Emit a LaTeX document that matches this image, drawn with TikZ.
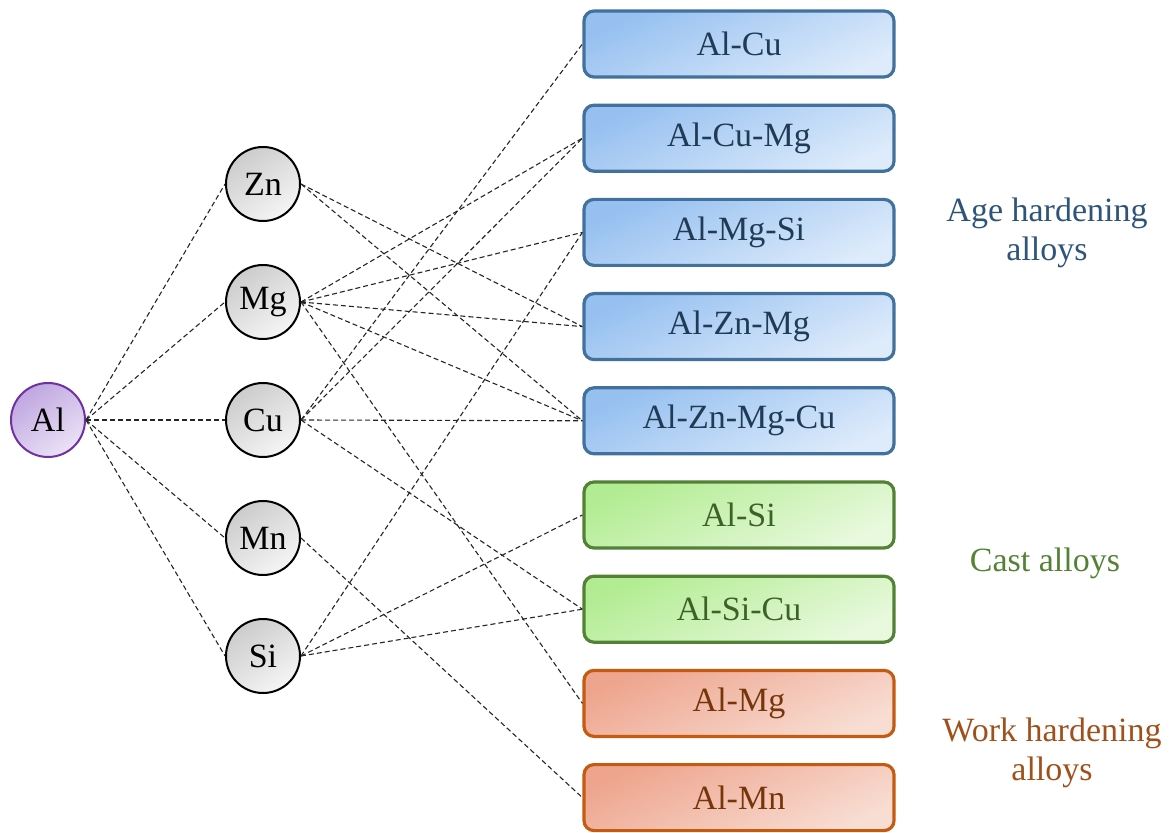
\documentclass[tikz,border=0pt]{standalone}
\usepackage{fontspec}
\setmainfont{Liberation Serif}
\usetikzlibrary{positioning}
\definecolor{agefill}{HTML}{96C0F0}
\definecolor{agelight}{HTML}{DDEBFB}
\definecolor{ageline}{HTML}{41719C}
\definecolor{agetext}{HTML}{2E5579}
\definecolor{castfill}{HTML}{B2EC92}
\definecolor{castlight}{HTML}{E9F9DE}
\definecolor{castline}{HTML}{538135}
\definecolor{casttext}{HTML}{548235}
\definecolor{workfill}{HTML}{EEA58E}
\definecolor{worklight}{HTML}{F8DDD3}
\definecolor{workline}{HTML}{C55A11}
\definecolor{worktext}{HTML}{A0501A}
\definecolor{basefill}{HTML}{BFA6E0}
\definecolor{baselight}{HTML}{EBE2F6}
\definecolor{baseline}{HTML}{7030A0}
\tikzset{
  element/.style = {
    draw=black, line width=1pt, circle, minimum size=37pt, inner sep=0pt,
    top color=black!20!white, bottom color=black!4!white, shading angle=35,
    font=\fontsize{17}{20}\selectfont,
  },
  base/.style = {element, draw=baseline, top color=basefill,
    bottom color=baselight, shading angle=35},
  alloy/.style = {
    rounded corners=5pt, line width=1.6pt, minimum width=155pt,
    minimum height=33pt, inner sep=0pt, font=\fontsize{17}{20}\selectfont,
  },
  age/.style = {alloy, draw=ageline, top color=agefill,
    bottom color=agelight, shading angle=25, text=agetext!70!black},
  cast/.style = {alloy, draw=castline, top color=castfill,
    bottom color=castlight, shading angle=25, text=castline!75!black},
  work/.style = {alloy, draw=workline, top color=workfill,
    bottom color=worklight, shading angle=25, text=workline!60!black},
  group label/.style = {align=center, font=\fontsize{17}{19.5}\selectfont},
  link/.style = {dash pattern=on 2.5pt off 1.5pt, line width=0.55pt,
    black!85!white},
}

\begin{document}
\begin{tikzpicture}[x=0.5pt, y=0.5pt]
  \useasboundingbox (0,0) rectangle (1171,-833);

  % base metal and alloying elements
  \node (Al) [base] at (48,-420) {Al};
  \node (Cu) [element] at (263,-420) {Cu};
  \node (Mg) [element, above=21pt of Cu] {Mg};
  \node (Zn) [element, above=21pt of Mg] {Zn};
  \node (Mn) [element, below=21pt of Cu] {Mn};
  \node (Si) [element, below=21pt of Mn] {Si};

  % alloy series
  \node (AlCu) [age] at (739,-44) {Al-Cu};
  \node (AlCuMg) [age, below=12.5pt of AlCu] {Al-Cu-Mg};
  \node (AlMgSi) [age, below=12.5pt of AlCuMg] {Al-Mg-Si};
  \node (AlZnMg) [age, below=12.5pt of AlMgSi] {Al-Zn-Mg};
  \node (AlZnMgCu) [age, below=12.5pt of AlZnMg] {Al-Zn-Mg-Cu};
  \node (AlSi) [cast, below=12.5pt of AlZnMgCu] {Al-Si};
  \node (AlSiCu) [cast, below=12.5pt of AlSi] {Al-Si-Cu};
  \node (AlMg) [work, below=12.5pt of AlSiCu] {Al-Mg};
  \node (AlMn) [work, below=12.5pt of AlMg] {Al-Mn};

  % group names
  \node (agelbl) [group label, text=agetext] at (1047,-233)
    {Age hardening\\alloys};
  \node (castlbl) [group label, text=casttext] at (1045,-563) {Cast alloys};
  \node (worklbl) [group label, text=worktext] at (1052,-753)
    {Work hardening\\alloys};

  % links
  \foreach \e in {Zn, Mg, Cu, Mn, Si}
    \draw [link] (Al.east) -- (\e.west);
  \foreach \a in {AlZnMg, AlZnMgCu}
    \draw [link] (Zn.east) -- (\a.west);
  \foreach \a in {AlCuMg, AlMgSi, AlZnMg, AlZnMgCu, AlMg}
    \draw [link] (Mg.east) -- (\a.west);
  \foreach \a in {AlCu, AlCuMg, AlZnMgCu, AlSiCu}
    \draw [link] (Cu.east) -- (\a.west);
  \draw [link] (Mn.east) -- (AlMn.west);
  \foreach \a in {AlMgSi, AlSi, AlSiCu}
    \draw [link] (Si.east) -- (\a.west);
\end{tikzpicture}
\end{document}
